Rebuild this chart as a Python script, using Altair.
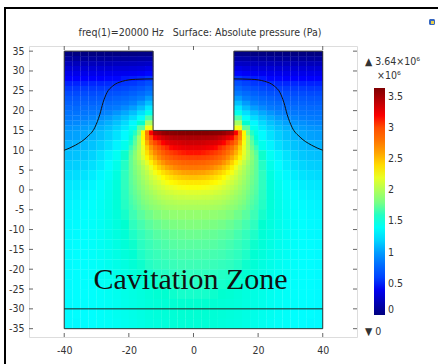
import altair as alt
import pandas as pd

N = None
# ---- readings of the absolute pressure field, in 1e6 Pa (None = inside the probe) ----
# upper part (beside the probe), cells 2.5 wide x 1.25 high, y from 35 down to 15
x_centers = [-38.75 + 2.5 * i for i in range(32)]
upper_y_centers = [34.375 - 1.25 * j for j in range(16)]
upper_rows = [
    [.01,.01,.01,.01,.01,.01,.01,.02,.02,.03,.03, N,N,N,N,N,N,N,N,N,N, .03,.03,.02,.02,.01,.01,.01,.01,.01,.01,.01],
    [.11,.11,.11,.11,.11,.11,.12,.12,.13,.14,.15, N,N,N,N,N,N,N,N,N,N, .15,.14,.13,.12,.12,.11,.11,.11,.11,.11,.11],
    [.22,.22,.22,.22,.22,.22,.23,.23,.24,.25,.26, N,N,N,N,N,N,N,N,N,N, .26,.25,.24,.23,.23,.22,.22,.22,.22,.22,.22],
    [.31,.31,.31,.31,.31,.31,.32,.32,.33,.34,.37, N,N,N,N,N,N,N,N,N,N, .37,.34,.33,.32,.32,.31,.31,.31,.31,.31,.31],
    [.38,.38,.38,.38,.38,.39,.39,.40,.41,.43,.46, N,N,N,N,N,N,N,N,N,N, .46,.43,.41,.40,.39,.39,.38,.38,.38,.38,.38],
    [.45,.45,.45,.45,.45,.46,.46,.48,.49,.51,.55, N,N,N,N,N,N,N,N,N,N, .55,.51,.49,.48,.46,.46,.45,.45,.45,.45,.45],
    [.50,.50,.50,.51,.51,.52,.53,.55,.56,.60,.65, N,N,N,N,N,N,N,N,N,N, .65,.60,.56,.55,.53,.52,.51,.51,.50,.50,.50],
    [.56,.56,.57,.57,.58,.59,.60,.62,.65,.69,.76, N,N,N,N,N,N,N,N,N,N, .76,.69,.65,.62,.60,.59,.58,.57,.57,.56,.56],
    [.63,.63,.64,.64,.65,.66,.67,.70,.74,.79,.87, N,N,N,N,N,N,N,N,N,N, .87,.79,.74,.70,.67,.66,.65,.64,.64,.63,.63],
    [.69,.69,.70,.70,.71,.72,.75,.78,.83,.89,.99, N,N,N,N,N,N,N,N,N,N, .99,.89,.83,.78,.75,.72,.71,.70,.70,.69,.69],
    [.74,.74,.75,.75,.77,.79,.82,.86,.92,1.00,1.12, N,N,N,N,N,N,N,N,N,N, 1.12,1.00,.92,.86,.82,.79,.77,.75,.75,.74,.74],
    [.79,.79,.80,.81,.83,.86,.89,.95,1.01,1.11,1.27, N,N,N,N,N,N,N,N,N,N, 1.27,1.11,1.01,.95,.89,.86,.83,.81,.80,.79,.79],
    [.84,.84,.85,.87,.90,.93,.98,1.04,1.12,1.24,1.46, N,N,N,N,N,N,N,N,N,N, 1.46,1.24,1.12,1.04,.98,.93,.90,.87,.85,.84,.84],
    [.88,.89,.91,.93,.96,1.00,1.06,1.13,1.23,1.39,1.69, N,N,N,N,N,N,N,N,N,N, 1.69,1.39,1.23,1.13,1.06,1.00,.96,.93,.91,.89,.88],
    [.93,.94,.96,.98,1.02,1.07,1.13,1.22,1.34,1.56,1.96, N,N,N,N,N,N,N,N,N,N, 1.96,1.56,1.34,1.22,1.13,1.07,1.02,.98,.96,.94,.93],
    [.97,.98,1.00,1.03,1.07,1.12,1.19,1.28,1.44,1.73,2.24, N,N,N,N,N,N,N,N,N,N, 2.24,1.73,1.44,1.28,1.19,1.12,1.07,1.03,1.00,.98,.97],
]

# lower part, cells 2.5 x 2.5, y from 15 down to -35
lower_y_centers = [13.75 - 2.5 * j for j in range(20)]
lower_rows = [
    [1.01,1.02,1.04,1.08,1.12,1.18,1.25,1.35,1.55,1.95,2.65,3.30,3.45,3.50,3.52,3.53, 3.53,3.52,3.50,3.45,3.30,2.65,1.95,1.55,1.35,1.25,1.18,1.12,1.08,1.04,1.02,1.01],
    [1.07,1.08,1.10,1.13,1.18,1.24,1.32,1.45,1.65,2.05,2.58,2.95,3.17,3.25,3.28,3.30, 3.30,3.28,3.25,3.17,2.95,2.58,2.05,1.65,1.45,1.32,1.24,1.18,1.13,1.10,1.08,1.07],
    [1.12,1.13,1.15,1.19,1.25,1.32,1.42,1.57,1.80,2.12,2.45,2.72,2.93,3.05,3.10,3.12, 3.12,3.10,3.05,2.93,2.72,2.45,2.12,1.80,1.57,1.42,1.32,1.25,1.19,1.15,1.13,1.12],
    [1.17,1.18,1.20,1.24,1.29,1.36,1.46,1.60,1.78,1.97,2.18,2.45,2.64,2.75,2.82,2.85, 2.85,2.82,2.75,2.64,2.45,2.18,1.97,1.78,1.60,1.46,1.36,1.29,1.24,1.20,1.18,1.17],
    [1.22,1.23,1.25,1.29,1.34,1.41,1.50,1.62,1.76,1.92,2.08,2.22,2.35,2.45,2.52,2.55, 2.55,2.52,2.45,2.35,2.22,2.08,1.92,1.76,1.62,1.50,1.41,1.34,1.29,1.25,1.23,1.22],
    [1.27,1.28,1.30,1.33,1.38,1.44,1.52,1.62,1.74,1.87,2.00,2.10,2.19,2.25,2.29,2.30, 2.30,2.29,2.25,2.19,2.10,2.00,1.87,1.74,1.62,1.52,1.44,1.38,1.33,1.30,1.28,1.27],
    [1.30,1.31,1.33,1.36,1.40,1.46,1.53,1.61,1.71,1.82,1.92,2.00,2.06,2.10,2.12,2.13, 2.13,2.12,2.10,2.06,2.00,1.92,1.82,1.71,1.61,1.53,1.46,1.40,1.36,1.33,1.31,1.30],
    [1.32,1.33,1.35,1.38,1.42,1.47,1.53,1.60,1.68,1.77,1.85,1.91,1.96,1.99,2.00,2.00, 2.00,2.00,1.99,1.96,1.91,1.85,1.77,1.68,1.60,1.53,1.47,1.42,1.38,1.35,1.33,1.32],
    [1.33,1.34,1.36,1.39,1.42,1.47,1.52,1.58,1.65,1.72,1.78,1.83,1.87,1.89,1.90,1.90, 1.90,1.90,1.89,1.87,1.83,1.78,1.72,1.65,1.58,1.52,1.47,1.42,1.39,1.36,1.34,1.33],
    [1.34,1.35,1.37,1.39,1.42,1.46,1.51,1.56,1.62,1.67,1.72,1.76,1.79,1.81,1.82,1.83, 1.83,1.82,1.81,1.79,1.76,1.72,1.67,1.62,1.56,1.51,1.46,1.42,1.39,1.37,1.35,1.34],
    [1.34,1.35,1.37,1.39,1.42,1.46,1.50,1.54,1.59,1.63,1.67,1.71,1.73,1.75,1.76,1.77, 1.77,1.76,1.75,1.73,1.71,1.67,1.63,1.59,1.54,1.50,1.46,1.42,1.39,1.37,1.35,1.34],
    [1.35,1.36,1.37,1.39,1.42,1.45,1.49,1.53,1.57,1.61,1.64,1.67,1.69,1.71,1.72,1.72, 1.72,1.72,1.71,1.69,1.67,1.64,1.61,1.57,1.53,1.49,1.45,1.42,1.39,1.37,1.36,1.35],
    [1.35,1.36,1.37,1.39,1.42,1.45,1.48,1.52,1.55,1.59,1.62,1.64,1.66,1.67,1.68,1.68, 1.68,1.68,1.67,1.66,1.64,1.62,1.59,1.55,1.52,1.48,1.45,1.42,1.39,1.37,1.36,1.35],
    [1.35,1.36,1.37,1.39,1.41,1.44,1.47,1.50,1.54,1.57,1.60,1.62,1.63,1.64,1.65,1.65, 1.65,1.65,1.64,1.63,1.62,1.60,1.57,1.54,1.50,1.47,1.44,1.41,1.39,1.37,1.36,1.35],
    [1.35,1.36,1.37,1.39,1.41,1.43,1.46,1.49,1.52,1.55,1.57,1.59,1.60,1.61,1.62,1.62, 1.62,1.62,1.61,1.60,1.59,1.57,1.55,1.52,1.49,1.46,1.43,1.41,1.39,1.37,1.36,1.35],
    [1.35,1.36,1.37,1.38,1.40,1.42,1.45,1.48,1.51,1.53,1.55,1.57,1.58,1.59,1.60,1.60, 1.60,1.60,1.59,1.58,1.57,1.55,1.53,1.51,1.48,1.45,1.42,1.40,1.38,1.37,1.36,1.35],
    [1.35,1.36,1.37,1.38,1.40,1.42,1.44,1.47,1.49,1.51,1.53,1.55,1.56,1.57,1.58,1.58, 1.58,1.58,1.57,1.56,1.55,1.53,1.51,1.49,1.47,1.44,1.42,1.40,1.38,1.37,1.36,1.35],
    [1.35,1.36,1.37,1.38,1.39,1.41,1.43,1.46,1.48,1.50,1.52,1.53,1.54,1.55,1.56,1.56, 1.56,1.56,1.55,1.54,1.53,1.52,1.50,1.48,1.46,1.43,1.41,1.39,1.38,1.37,1.36,1.35],
    [1.35,1.36,1.36,1.37,1.39,1.41,1.43,1.45,1.47,1.49,1.51,1.52,1.53,1.54,1.55,1.55, 1.55,1.55,1.54,1.53,1.52,1.51,1.49,1.47,1.45,1.43,1.41,1.39,1.37,1.36,1.36,1.35],
    [1.35,1.35,1.36,1.37,1.39,1.40,1.42,1.44,1.46,1.48,1.50,1.51,1.52,1.53,1.54,1.54, 1.54,1.54,1.53,1.52,1.51,1.50,1.48,1.46,1.44,1.42,1.40,1.39,1.37,1.36,1.35,1.35],
]

# finer readings (1.25 x 1.25) of the hot zone under the probe, x in [-20, 20], y in [-5, 15]
fine_x_centers = [-19.375 + 1.25 * i for i in range(32)]
fine_y_centers = [14.375 - 1.25 * j for j in range(16)]
fine_rows = [
    [1.47,1.60,1.79,2.30,2.75,3.20,3.45,3.50,3.56,3.59,3.60,3.61,3.62,3.62,3.63,3.63, 3.63,3.63,3.62,3.62,3.61,3.60,3.59,3.56,3.50,3.45,3.20,2.75,2.30,1.79,1.60,1.47],
    [1.53,1.68,1.95,2.30,2.70,3.00,3.20,3.28,3.34,3.39,3.43,3.45,3.46,3.46,3.47,3.47, 3.47,3.47,3.46,3.46,3.45,3.43,3.39,3.34,3.28,3.20,3.00,2.70,2.30,1.95,1.68,1.53],
    [1.58,1.73,1.95,2.25,2.58,2.85,3.02,3.12,3.19,3.26,3.30,3.32,3.33,3.35,3.36,3.36, 3.36,3.36,3.35,3.33,3.32,3.30,3.26,3.19,3.12,3.02,2.85,2.58,2.25,1.95,1.73,1.58],
    [1.64,1.78,1.98,2.21,2.46,2.66,2.83,2.96,3.06,3.13,3.18,3.21,3.23,3.25,3.26,3.26, 3.26,3.26,3.25,3.23,3.21,3.18,3.13,3.06,2.96,2.83,2.66,2.46,2.21,1.98,1.78,1.64],
    [1.71,1.85,2.02,2.20,2.39,2.56,2.70,2.83,2.94,3.02,3.07,3.11,3.14,3.16,3.17,3.17, 3.17,3.17,3.16,3.14,3.11,3.07,3.02,2.94,2.83,2.70,2.56,2.39,2.20,2.02,1.85,1.71],
    [1.74,1.87,2.01,2.16,2.31,2.45,2.58,2.70,2.81,2.89,2.95,2.99,3.02,3.04,3.05,3.05, 3.05,3.05,3.04,3.02,2.99,2.95,2.89,2.81,2.70,2.58,2.45,2.31,2.16,2.01,1.87,1.74],
    [1.74,1.84,1.95,2.07,2.19,2.32,2.45,2.57,2.66,2.74,2.80,2.84,2.87,2.90,2.91,2.92, 2.92,2.91,2.90,2.87,2.84,2.80,2.74,2.66,2.57,2.45,2.32,2.19,2.07,1.95,1.84,1.74],
    [1.74,1.82,1.91,2.01,2.11,2.22,2.33,2.44,2.52,2.60,2.65,2.70,2.73,2.76,2.77,2.78, 2.78,2.77,2.76,2.73,2.70,2.65,2.60,2.52,2.44,2.33,2.22,2.11,2.01,1.91,1.82,1.74],
    [1.73,1.81,1.89,1.98,2.06,2.15,2.24,2.31,2.39,2.45,2.50,2.55,2.58,2.61,2.62,2.63, 2.63,2.62,2.61,2.58,2.55,2.50,2.45,2.39,2.31,2.24,2.15,2.06,1.98,1.89,1.81,1.73],
    [1.73,1.79,1.87,1.95,2.02,2.10,2.16,2.22,2.28,2.34,2.38,2.42,2.45,2.47,2.48,2.49, 2.49,2.48,2.47,2.45,2.42,2.38,2.34,2.28,2.22,2.16,2.10,2.02,1.95,1.87,1.79,1.73],
    [1.72,1.78,1.85,1.92,1.99,2.05,2.11,2.15,2.21,2.25,2.29,2.31,2.34,2.35,2.36,2.36, 2.36,2.36,2.35,2.34,2.31,2.29,2.25,2.21,2.15,2.11,2.05,1.99,1.92,1.85,1.78,1.72],
    [1.71,1.76,1.83,1.89,1.95,2.01,2.06,2.10,2.14,2.18,2.20,2.22,2.24,2.25,2.26,2.26, 2.26,2.26,2.25,2.24,2.22,2.20,2.18,2.14,2.10,2.06,2.01,1.95,1.89,1.83,1.76,1.71],
    [1.70,1.75,1.80,1.86,1.92,1.96,2.01,2.05,2.08,2.11,2.13,2.15,2.16,2.16,2.17,2.17, 2.17,2.17,2.16,2.16,2.15,2.13,2.11,2.08,2.05,2.01,1.96,1.92,1.86,1.80,1.75,1.70],
    [1.68,1.73,1.78,1.84,1.88,1.92,1.96,2.00,2.03,2.05,2.06,2.08,2.09,2.09,2.10,2.10, 2.10,2.10,2.09,2.09,2.08,2.06,2.05,2.03,2.00,1.96,1.92,1.88,1.84,1.78,1.73,1.68],
    [1.67,1.71,1.76,1.81,1.85,1.89,1.92,1.95,1.98,2.00,2.01,2.02,2.03,2.03,2.03,2.03, 2.03,2.03,2.03,2.03,2.02,2.01,2.00,1.98,1.95,1.92,1.89,1.85,1.81,1.76,1.71,1.67],
    [1.65,1.69,1.74,1.78,1.81,1.85,1.88,1.90,1.93,1.95,1.96,1.97,1.98,1.98,1.98,1.98, 1.98,1.98,1.98,1.98,1.97,1.96,1.95,1.93,1.90,1.88,1.85,1.81,1.78,1.74,1.69,1.65],
]

# domain outline (water region with the probe cut out)
outline_x = [-40, -40, 40, 40, 12.5, 12.5, -12.5, -12.5, -40]
outline_y = [35, -35, -35, 35, 35, 15, 15, 35, 35]

# curved boundary lines
curve_left_x = [-40, -36.5, -33, -30.5, -29, -28, -26.8, -25, -22, -18, -12.5]
curve_left_y = [10, 11.3, 13.3, 15.8, 19, 22, 24.5, 26.2, 27.4, 27.9, 28]
curve_right_x = [12.5, 18, 22, 25, 26.8, 28, 29, 30.5, 33, 36.5, 40]
curve_right_y = [28, 27.9, 27.4, 26.2, 24.5, 22, 19, 15.8, 13.3, 11.3, 10]

zone_line = {"x": [-40], "x2": [40], "y": [-30]}

x_ticks = [-40, -20, 0, 20, 40]
y_ticks = [-35, -30, -25, -20, -15, -10, -5, 0, 5, 10, 15, 20, 25, 30, 35]
legend_values = [0, 0.5, 1, 1.5, 2, 2.5, 3, 3.5]
p_max = 3.64

X_DOM = [-50.9, 50.6]
Y_DOM = [-37.1, 36.3]
W, H = 328, 291
PAD_L, PAD_T = 29, 46
FONT = "DejaVu Sans Condensed, DejaVu Sans"
NB = "\u00a0"


# ---------- build tables ----------
def grid_table(xcs, ycs, rows, hx, hy):
    out = []
    for yc, row in zip(ycs, rows):
        for xc, v in zip(xcs, row):
            if v is None:
                continue
            out.append({"x0": xc - hx, "x1": xc + hx + 0.07,
                        "y0": yc - hy - 0.07, "y1": yc + hy, "p": v})
    return out


cells_df = pd.DataFrame(grid_table(x_centers, upper_y_centers, upper_rows, 1.25, 0.625)
                        + grid_table(x_centers, lower_y_centers, lower_rows, 1.25, 1.25)
                        + grid_table(fine_x_centers, fine_y_centers, fine_rows, 0.625, 0.625))

outline_df = pd.DataFrame({"x0": outline_x, "y0": outline_y, "o": list(range(len(outline_x)))})
curve_df = pd.DataFrame({
    "x0": curve_left_x + curve_right_x,
    "y0": curve_left_y + curve_right_y,
    "side": ["L"] * len(curve_left_x) + ["R"] * len(curve_right_x),
    "o": list(range(len(curve_left_x))) + list(range(len(curve_right_x))),
})

xs = alt.Scale(domain=X_DOM, nice=False, zero=False)
ys = alt.Scale(domain=Y_DOM, nice=False, zero=False)
ax_x = alt.Axis(values=x_ticks, ticks=False, domain=False, grid=False, title=None,
                labelPadding=8, labelFont=FONT, labelFontSize=10.5, labelColor="#333",
                labelExpr="'' + datum.value")
ax_y = alt.Axis(values=y_ticks, ticks=False, domain=False, grid=False, title=None,
                labelPadding=5, labelFont=FONT, labelFontSize=10.5, labelColor="#333",
                labelExpr="'' + datum.value")


def X(field):
    return alt.X(field, type="quantitative", scale=xs, axis=ax_x)


def Y(field):
    return alt.Y(field, type="quantitative", scale=ys, axis=ax_y)


jet = ["#00007f", "#0000ff", "#007fff", "#00ffff", "#7fff7f", "#ffff00", "#ff7f00", "#ff0000", "#7f0000"]
stops = [p_max * i / 8 for i in range(9)]

heat = alt.Chart(cells_df).mark_rect().encode(
    x=X("x0"), x2="x1:Q", y=Y("y0"), y2="y1:Q",
    fill=alt.Fill("p:Q", scale=alt.Scale(domain=stops, range=jet),
                  legend=alt.Legend(orient="none", legendX=345, legendY=42, title=None,
                                    direction="vertical", gradientLength=227, gradientThickness=11,
                                    gradientStrokeWidth=0, values=legend_values, labelOverlap=False,
                                    labelFont=FONT, labelFontSize=10.5, labelColor="#333", labelOffset=3,
                                    labelExpr="'' + datum.value", padding=0)),
)

outline = alt.Chart(outline_df).mark_line(stroke="#333", strokeWidth=1).encode(
    x=X("x0"), y=Y("y0"), order="o:Q")

curves = alt.Chart(curve_df).mark_line(stroke="#111", strokeWidth=1, interpolate="monotone").encode(
    x=X("x0"), y=Y("y0"), detail="side:N", order="o:Q")

zline = alt.Chart(pd.DataFrame(zone_line)).mark_rule(stroke="#222", strokeWidth=1).encode(
    x=alt.X("x:Q", scale=xs, axis=ax_x), x2="x2:Q", y=alt.Y("y:Q", scale=ys, axis=ax_y))

# inward tick marks on all four sides
xt = pd.DataFrame({"t": x_ticks})
yt = pd.DataFrame({"t": y_ticks})
tick_style = dict(stroke="#666", strokeWidth=1)
ticks_b = alt.Chart(xt).mark_rule(**tick_style).encode(
    x=alt.X("t:Q", scale=xs, axis=ax_x), y=alt.value(H), y2=alt.value(H - 4))
ticks_t = alt.Chart(xt).mark_rule(**tick_style).encode(
    x=alt.X("t:Q", scale=xs, axis=ax_x), y=alt.value(0), y2=alt.value(4))
ticks_l = alt.Chart(yt).mark_rule(**tick_style).encode(
    y=alt.Y("t:Q", scale=ys, axis=ax_y), x=alt.value(0), x2=alt.value(4))
ticks_r = alt.Chart(yt).mark_rule(**tick_style).encode(
    y=alt.Y("t:Q", scale=ys, axis=ax_y), x=alt.value(W), x2=alt.value(W - 4))

label_df = pd.DataFrame({"x": [-0.9], "y": [-24.9], "txt": ["Cavitation Zone"]})
cav = alt.Chart(label_df).mark_text(font="Liberation Serif", fontSize=30, color="#111",
                                    align="center", baseline="alphabetic").encode(
    x=alt.X("x:Q", scale=xs, axis=ax_x), y=alt.Y("y:Q", scale=ys, axis=ax_y), text="txt:N")

one = pd.DataFrame({"a": [0]})
title = alt.Chart(one).mark_text(text="freq(1)=20000 Hz" + NB * 3 + "Surface: Absolute pressure (Pa)",
                                 font=FONT, fontSize=10.5, color="#333", align="center",
                                 baseline="middle").encode(x=alt.value(171), y=alt.value(-13))
top_lbl = alt.Chart(one).mark_text(text="▲ 3.64×10⁶", font=FONT, fontSize=10.5, color="#333",
                                   align="left", baseline="middle").encode(x=alt.value(336), y=alt.value(16))
mult_lbl = alt.Chart(one).mark_text(text="×10⁶", font=FONT, fontSize=10.5, color="#333",
                                    align="left", baseline="middle").encode(x=alt.value(348), y=alt.value(30))
bot_lbl = alt.Chart(one).mark_text(text="▼ 0", font=FONT, fontSize=10.5, color="#333",
                                   align="left", baseline="middle").encode(x=alt.value(336), y=alt.value(286))
icon = alt.Chart(one).mark_rect(fill="#3566c0", cornerRadius=1.5).encode(
    x=alt.value(400), x2=alt.value(406), y=alt.value(-27), y2=alt.value(-21))
icon_in = alt.Chart(one).mark_rect(fill="#e8cf4a").encode(
    x=alt.value(402), x2=alt.value(405), y=alt.value(-25), y2=alt.value(-22))
border_l = alt.Chart(one).mark_rule(stroke="#000", strokeWidth=2).encode(
    x=alt.value(-24), y=alt.value(-38), y2=alt.value(330))
border_t = alt.Chart(one).mark_rule(stroke="#000", strokeWidth=2).encode(
    y=alt.value(-38), x=alt.value(-25), x2=alt.value(420))

chart = alt.layer(
    heat, outline, curves, zline, ticks_b, ticks_t, ticks_l, ticks_r, cav,
    title, top_lbl, mult_lbl, bot_lbl, icon, icon_in, border_l, border_t,
).properties(
    width=W, height=H,
    padding={"left": PAD_L, "top": PAD_T, "right": 438 - PAD_L - W, "bottom": 364 - PAD_T - H},
    autosize=alt.AutoSizeParams(type="none"),
).configure_view(stroke="#808080", strokeWidth=1.5).configure(background="white")

chart.save("out.html", embed_options={"renderer": "svg", "actions": False})
